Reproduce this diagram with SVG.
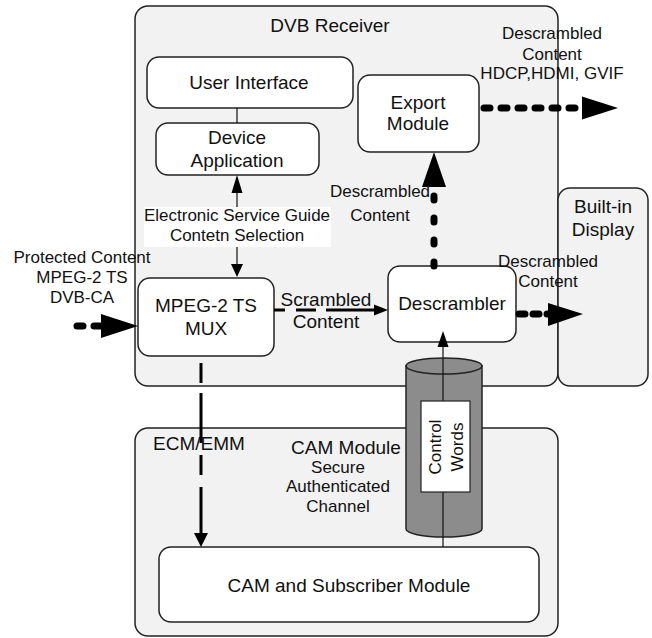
<svg xmlns="http://www.w3.org/2000/svg" width="652" height="638" viewBox="0 0 652 638">
<style>
text{font-family:"Liberation Sans",Arial,sans-serif;fill:#111;text-anchor:middle}
.big{font-size:19px}
.sm{font-size:17px}
.cont{fill:#f2f2f2;stroke:#222;stroke-width:1.5}
.box{fill:#fff;stroke:#222;stroke-width:1.5}
.thin{stroke:#111;stroke-width:1.2;fill:none}
.dot{stroke:#000;stroke-width:7;fill:none;stroke-linecap:round}
.dash{stroke:#000;stroke-width:3;fill:none}
.head{fill:#000}
</style>
<rect width="652" height="638" fill="#fff"/>
<g id="dvb-receiver">
<rect class="cont" x="135" y="6" width="423" height="380" rx="13"/>
<text class="big" x="330" y="32">DVB Receiver</text>
</g>
<g id="built-in-display">
<rect class="cont" x="558" y="188" width="90" height="198" rx="12"/>
<text class="big" x="603" y="213">Built-in</text>
<text class="big" x="603" y="236">Display</text>
</g>
<g id="cam-module">
<rect class="cont" x="135" y="428" width="423" height="208" rx="13"/>
<text class="big" x="199" y="450">ECM/EMM</text>
<text class="big" x="346" y="454">CAM Module</text>
<text class="sm" x="338" y="473">Secure</text>
<text class="sm" x="338" y="492">Authenticated</text>
<text class="sm" x="338" y="512">Channel</text>
</g>
<g id="user-interface">
<rect class="box" x="147" y="57" width="206" height="51" rx="12"/>
<text class="big" x="249" y="89">User Interface</text>
</g>
<g id="device-application">
<rect class="box" x="156" y="123" width="163" height="52" rx="12"/>
<text class="big" x="237" y="144">Device</text>
<text class="big" x="237" y="167">Application</text>
</g>
<g id="esg-label">
<rect x="144" y="207" width="187" height="40" fill="#fff"/>
<text class="sm" x="237" y="221">Electronic Service Guide</text>
<text class="sm" x="237" y="241">Contetn Selection</text>
</g>
<g id="mux">
<rect class="box" x="138" y="278" width="136" height="78" rx="12"/>
<text class="big" x="206" y="312">MPEG-2 TS</text>
<text class="big" x="206" y="335">MUX</text>
</g>
<g id="export-module">
<rect class="box" x="358" y="75" width="121" height="77" rx="12"/>
<text class="big" x="418" y="109">Export</text>
<text class="big" x="418" y="130">Module</text>
</g>
<g id="descrambler">
<rect class="box" x="388" y="266" width="128" height="76" rx="12"/>
<text class="big" x="452" y="310">Descrambler</text>
</g>
<g id="cam-subscriber">
<rect class="box" x="159" y="547" width="380" height="75" rx="12"/>
<text class="big" x="349" y="592">CAM and Subscriber Module</text>
</g>
<g id="control-words">
<path d="M406,366 L406,529 A38,8 0 0 0 482,529 L482,366 Z" fill="#8c8c8c" stroke="#222" stroke-width="1.5"/>
<ellipse cx="444" cy="366" rx="38" ry="8" fill="#8c8c8c" stroke="#222" stroke-width="1.5"/>
</g>
<g id="connectors">
<line class="thin" x1="237" y1="108" x2="237" y2="123"/>
<line class="thin" x1="237" y1="207" x2="237" y2="190"/>
<polygon class="head" points="237,175 231.5,193 242.5,193"/>
<line class="thin" x1="237" y1="247" x2="237" y2="265"/>
<polygon class="head" points="237,277 231,264 243,264"/>
<line class="thin" x1="443" y1="547" x2="443" y2="347"/>
<polygon class="head" points="443,331 437.5,347 448.5,347"/>
<path class="dot" d="M77,326 H102" stroke-dasharray="6 11"/>
<polygon class="head" points="138,326 101,314 101,338"/>
<path class="dash" d="M274,310 H376" stroke-dasharray="11 11 20 10 60"/>
<polygon class="head" points="388,310 374,304.5 374,315.5"/>
<path class="dash" d="M201,363 V535" stroke-dasharray="20 10 50 12 20 12 100"/>
<polygon class="head" points="201,547 194,533 208,533"/>
<path class="dot" d="M434,266 V190" stroke-dasharray="4 18"/>
<polygon class="head" points="434,152 422,187 446,187"/>
<path class="dot" d="M484,108 H582" stroke-dasharray="6 11"/>
<polygon class="head" points="618,108 582,96.5 582,119.5"/>
<path class="dot" d="M519,314 H548" stroke-dasharray="6 8"/>
<polygon class="head" points="583,314 548,303 548,326"/>
</g>
<g id="control-words-label">
<rect x="421" y="401" width="49" height="91" fill="#fff" stroke="#222" stroke-width="1.2"/>
<g transform="translate(445,447) rotate(-90)">
<text class="sm" x="0" y="-4">Control</text>
<text class="sm" x="0" y="18">Words</text>
</g>
</g>
<g id="labels">
<text class="sm" x="82" y="263">Protected Content</text>
<text class="sm" x="82" y="283">MPEG-2 TS</text>
<text class="sm" x="82" y="303">DVB-CA</text>
<text class="big" x="326" y="306">Scrambled</text>
<text class="big" x="326" y="328">Content</text>
<text class="sm" x="380" y="197">Descrambled</text>
<text class="sm" x="380" y="221">Content</text>
<text class="sm" x="552" y="39">Descrambled</text>
<text class="sm" x="552" y="60">Content</text>
<text class="sm" x="552" y="79">HDCP,HDMI, GVIF</text>
<text class="sm" x="548" y="267">Descrambled</text>
<text class="sm" x="548" y="287">Content</text>
</g>
</svg>
